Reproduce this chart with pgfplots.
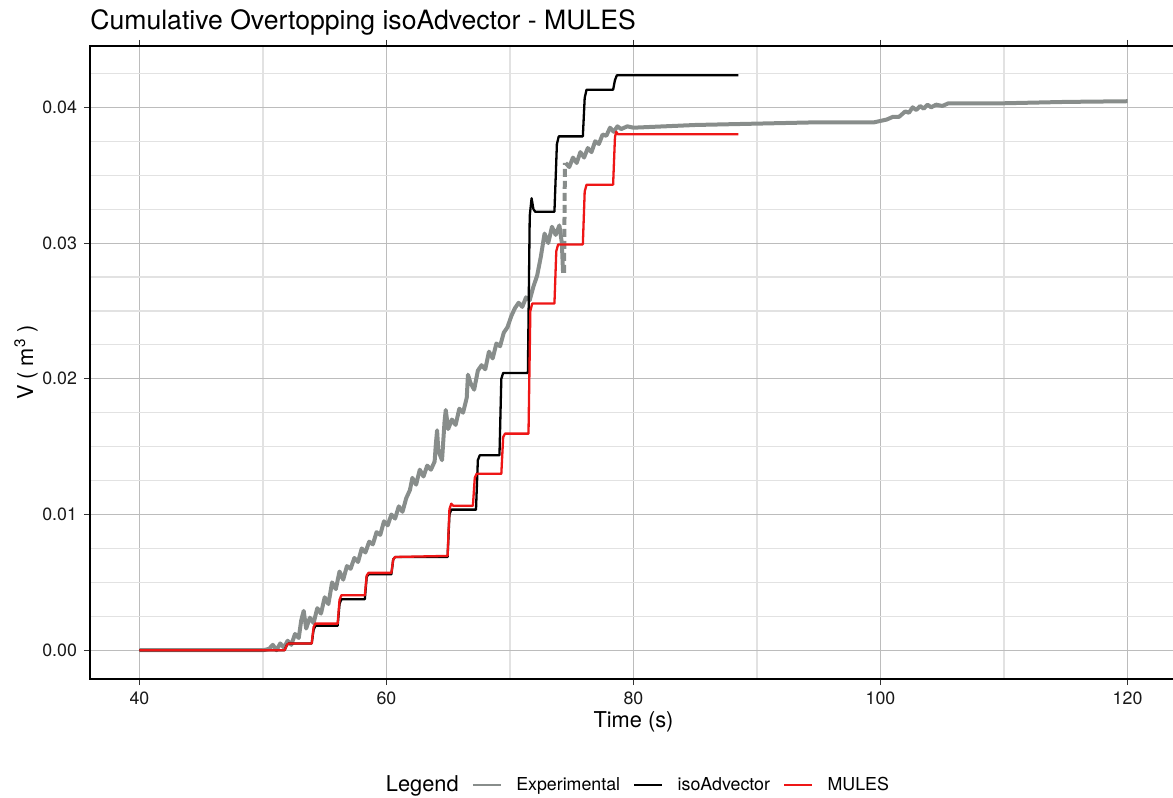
\documentclass[border=0pt]{standalone}
\usepackage{fontspec}
\setmainfont{TeX Gyre Heros}
\usepackage{pgfplots}
\pgfplotsset{compat=1.18}

\definecolor{expgray}{RGB}{136,141,139}
\definecolor{mulesred}{RGB}{238,22,22}
\definecolor{majgrid}{RGB}{188,188,188}
\definecolor{mingrid}{RGB}{226,226,226}

\begin{document}
\begin{tikzpicture}
\begin{axis}[
  name=ax,
  scale only axis,
  width=543.5pt, height=316.5pt,
  xmin=36, xmax=124, ymin=-0.00212, ymax=0.04452,
  xtick={40,60,80,100,120},
  minor xtick={50,70,90,110},
  ytick={0,0.01,0.02,0.03,0.04},
  yticklabels={0.00,0.01,0.02,0.03,0.04},
  minor ytick={0.0025,0.005,0.0075,0.0125,0.015,0.0175,0.0225,0.025,0.0275,0.0325,0.035,0.0375,0.0425},
  scaled y ticks=false,
  grid=both,
  major grid style={draw=majgrid, line width=0.5pt},
  minor grid style={draw=mingrid, line width=0.6pt},
  axis line style={black, line width=0.8pt},
  tick align=outside,
  major tick length=3pt,
  minor tick length=0pt,
  tick style={black!80, line width=0.5pt},
  ticklabel style={font=\fontsize{8.9}{10}\selectfont, text=black!90},
  /pgf/number format/assume math mode=true,
  xlabel={Time (s)},
  ylabel={V ( m\textsuperscript{3} )},
  label style={font=\fontsize{10.9}{12}\selectfont},
  xlabel style={at={(axis description cs:0.5,-0.0774)}, anchor=base},
  ylabel style={at={(axis description cs:-0.0524,0.5)}, anchor=base},
  title={Cumulative Overtopping isoAdvector - MULES},
  title style={at={(axis description cs:0,1.0253)}, anchor=base west, yshift=-6pt, inner sep=0pt, font=\fontsize{13.3}{15}\selectfont},
  legend columns=-1,
  legend style={
    at={(axis description cs:0.2594,-0.1675)}, anchor=west,
    draw=none, fill=none, inner sep=0pt, outer sep=0pt,
    font=\fontsize{8.9}{10}\selectfont,
    nodes={inner sep=0pt},
    /tikz/every odd column/.append style={column sep=7pt},
    /tikz/every even column/.append style={column sep=6.5pt},
  },
  legend image code/.code={\draw[#1, line width=1.3pt, solid] (0pt,0pt) -- (14pt,0pt);},
  unbounded coords=jump,
]

\addlegendimage{empty legend}
\addlegendentry{\fontsize{10.9}{12}\selectfont Legend}

% measured cumulative volume
\addplot[expgray, line width=2pt, line join=round] coordinates {
(40,0) (45,0) (50,0) (50.5,0.0001) (50.8,0.0004) (51.1,0.0000) (51.4,0.0005)
(51.7,0.0002) (52.0,0.0007) (52.3,0.0004) (52.6,0.0012) (52.9,0.0009)
(53.1,0.0022) (53.3,0.0029) (53.5,0.0016) (53.8,0.0024) (54.1,0.0020)
(54.4,0.0031) (54.7,0.0027) (55.0,0.0039) (55.3,0.0034) (55.6,0.0050)
(55.9,0.0045) (56.2,0.0058) (56.5,0.0052) (56.8,0.0062) (57.1,0.0060)
(57.4,0.0068) (57.7,0.0065) (58.0,0.0075) (58.3,0.0072) (58.6,0.0080)
(58.9,0.0078) (59.2,0.0087) (59.5,0.0085) (59.8,0.0095) (60.1,0.0092)
(60.4,0.0100) (60.7,0.0097) (61.0,0.0106) (61.3,0.0102) (61.6,0.0112)
(61.9,0.0118) (62.1,0.0127) (62.4,0.0122) (62.7,0.0133) (63.0,0.0128)
(63.3,0.0136) (63.6,0.0133) (63.9,0.0139) (64.0,0.0152) (64.1,0.0162)
(64.2,0.0147) (64.5,0.0140) (64.7,0.0168) (64.8,0.0177) (65.0,0.0163)
(65.3,0.0170) (65.6,0.0166) (65.9,0.0178) (66.2,0.0175) (66.5,0.0186)
(66.6,0.0203) (66.8,0.0197) (67.1,0.0192) (67.4,0.0206) (67.7,0.0210)
(68.0,0.0207) (68.3,0.0220) (68.6,0.0215) (68.9,0.0226) (69.2,0.0224)
(69.5,0.0234) (69.8,0.0238) (70.1,0.0246) (70.4,0.0252) (70.7,0.0256)
(71.0,0.0253) (71.3,0.0260) (71.6,0.0258) (71.9,0.0268) (72.2,0.0276)
(72.5,0.0290) (72.8,0.0307) (73.1,0.0300) (73.4,0.0312) (73.7,0.0306)
(74.0,0.0313) (74.2,0.0300) (74.3,0.0278)
(74.4,nan)
(74.5,0.0359) (74.8,0.0356) (75.1,0.0363) (75.4,0.0359) (75.7,0.0367)
(76.0,0.0363) (76.3,0.0370) (76.6,0.0367) (76.9,0.0375) (77.2,0.0373)
(77.5,0.0380) (77.8,0.0379) (78.1,0.0385) (78.4,0.0382) (78.7,0.0386)
(79.0,0.0384) (79.5,0.0386) (80,0.0385) (85,0.0387) (90,0.0388)
(95,0.0389) (99.5,0.0389) (100,0.0390) (100.5,0.0391) (101,0.0393)
(101.5,0.0393) (102,0.0397) (102.3,0.0396) (102.6,0.0400) (102.9,0.0398)
(103.2,0.0401) (103.5,0.0399) (103.8,0.0402) (104.1,0.0400) (104.5,0.0402)
(105,0.0401) (105.5,0.0403) (106,0.0403) (110,0.0403) (115,0.0404)
(120,0.04045)
};
\addlegendentry{Experimental}
% sparse samples across the fast rise
\addplot[expgray, line width=2pt, dash pattern=on 4pt off 2pt, forget plot]
  coordinates {(74.38,0.0278) (74.45,0.0359)};

% isoAdvector run
\addplot[black, line width=1.15pt, line join=round] coordinates {
(40,0) (51.75,0) (51.95,0.0004) (52.1,0.0005) (53.95,0.0005) (54.1,0.0015)
(54.25,0.0018) (56.05,0.0018) (56.2,0.0034) (56.35,0.00376) (58.25,0.00376)
(58.4,0.0054) (58.55,0.0056) (60.4,0.0056) (60.55,0.0067) (60.7,0.00687)
(64.95,0.00687) (65.1,0.0100) (65.25,0.01036) (67.25,0.01036) (67.4,0.0140)
(67.55,0.01436) (69.15,0.01436) (69.3,0.0200) (69.45,0.02043) (71.45,0.02043)
(71.6,0.0320) (71.75,0.0333) (71.9,0.0325) (72.05,0.0323) (73.6,0.0323)
(73.8,0.0373) (73.95,0.03786) (75.9,0.03786) (76.05,0.0407) (76.2,0.0413)
(78.35,0.0413) (78.5,0.0420) (78.65,0.04236) (88.5,0.04236)
};
\addlegendentry{isoAdvector}

% MULES run
\addplot[mulesred, line width=1.15pt, line join=round] coordinates {
(40,0) (51.75,0) (51.95,0.0004) (52.1,0.0005) (53.95,0.0005) (54.1,0.0017)
(54.25,0.00196) (56.05,0.00196) (56.2,0.0037) (56.35,0.00405) (58.25,0.00405)
(58.4,0.0055) (58.55,0.0057) (60.4,0.0057) (60.55,0.0067) (60.7,0.00687)
(64.95,0.00695) (65.1,0.0104) (65.25,0.0108) (65.4,0.01065) (67.0,0.01065)
(67.15,0.0127) (67.3,0.0130) (69.3,0.0130) (69.45,0.0157) (69.6,0.01596)
(71.5,0.01596) (71.65,0.0250) (71.8,0.02554) (73.6,0.02554) (73.75,0.0294)
(73.9,0.0299) (75.9,0.0299) (76.05,0.0338) (76.2,0.0343) (78.35,0.0343)
(78.5,0.0378) (78.6,0.0382) (78.75,0.03801) (88.5,0.03801)
};
\addlegendentry{MULES}
\end{axis}
\pgfresetboundingbox
\path[use as bounding box] (-45pt,-59.5pt) rectangle (541.5pt,339.5pt);
\end{tikzpicture}
\end{document}
